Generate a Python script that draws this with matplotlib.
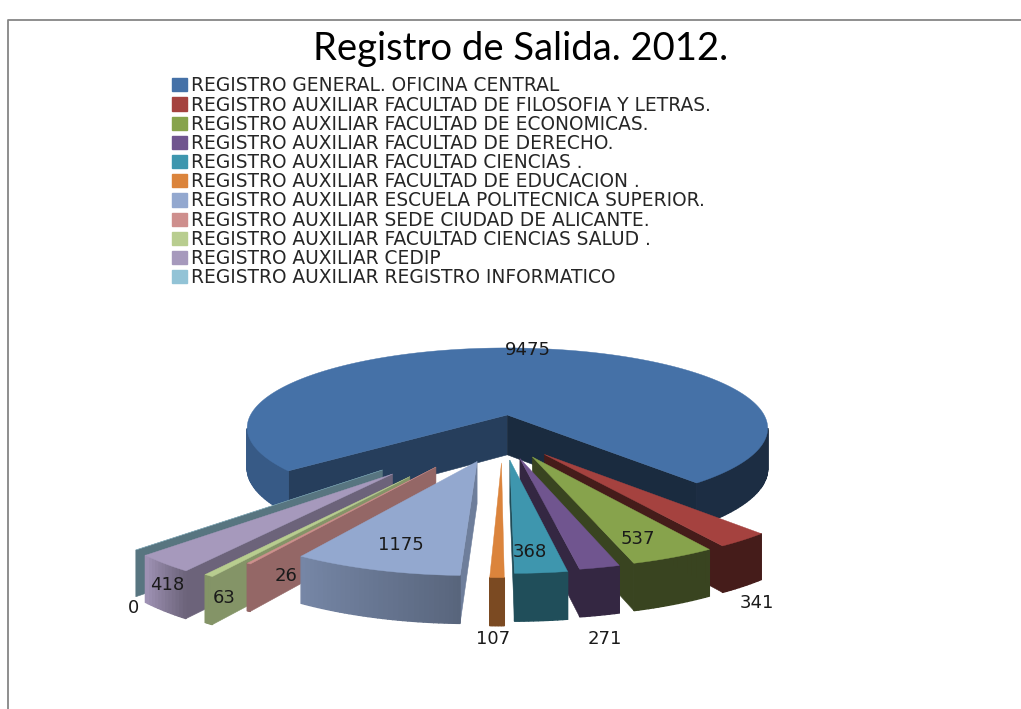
import numpy as np
import matplotlib
matplotlib.use("Agg")
import matplotlib.pyplot as plt
from matplotlib.patches import Polygon, Patch
from matplotlib.lines import Line2D

TITLE = "Registro de Salida. 2012."
CATEGORIES = ["REGISTRO GENERAL. OFICINA CENTRAL",
              "REGISTRO AUXILIAR FACULTAD DE FILOSOFIA Y LETRAS.",
              "REGISTRO AUXILIAR FACULTAD DE ECONOMICAS.",
              "REGISTRO AUXILIAR FACULTAD DE DERECHO.",
              "REGISTRO AUXILIAR FACULTAD CIENCIAS .",
              "REGISTRO AUXILIAR FACULTAD DE EDUCACION .",
              "REGISTRO AUXILIAR ESCUELA POLITECNICA SUPERIOR.",
              "REGISTRO AUXILIAR SEDE CIUDAD DE ALICANTE.",
              "REGISTRO AUXILIAR FACULTAD CIENCIAS SALUD .",
              "REGISTRO AUXILIAR CEDIP",
              "REGISTRO AUXILIAR REGISTRO INFORMATICO"]
VALUES = [9475, 341, 537, 271, 368, 107, 1175, 26, 63, 418, 0]

COLORS = ["#4571a7", "#a5423f", "#87a34c", "#70558f", "#3e96ae", "#db843c",
          "#93a8cf", "#ce8f8d", "#b8cd8f", "#a699bc", "#92c3d6"]
EXPLODE = [0.28, 0.24, 0.24, 0.24, 0.25, 0.28, 0.28, 0.40, 0.53, 0.55, 0.55]
START_SHADE = [0.55, 0.5, 0.5, 0.5, 0.5, 0.55, 0.75, 0.72, 0.72, 0.65, 0.6]
END_SHADE = [0.38, 0.42, 0.42, 0.46, 0.5, 0.55, 0.75, 0.72, 0.72, 0.65, 0.6]
ARC_SHADE = [(0.8, 0.4), (0.42, 0.42), (0.42, 0.42), (0.46, 0.46), (0.52, 0.52),
             (0.56, 0.56), (0.6, 0.8), (0.72, 0.72), (0.72, 0.72), (0.66, 0.95), (0.6, 0.6)]
DRAW_ORDER = [0, 10, 9, 8, 7, 6, 1, 2, 3, 4, 5]
LABEL_POS = [(528, 350), (757, 603), (638, 539), (605, 639), (530, 552), (493, 639),
             (401, 545), (286, 576), (224, 598), (167, 585), (133, 608)]

START_ANGLE = 230.0
MAIN_END_EXTRA = 3.0
WARP_AT = [137, 160, 172, 182, 186, 219, 230]
WARP_BY = [-2, -2, -1, 0.5, 1.9, 5, 6]
CX, CY, RX, RY, PERSP, HEIGHT = 503.0, 437.8, 269.0, 85.5, 0.17, 41.0


def project(u, v, drop=0.0):
    w = 1 + PERSP * v
    return CX + RX * u / w, CY - RY * v / w + drop * HEIGHT / w ** 0.65


def shade(color, f):
    return tuple(np.array(matplotlib.colors.to_rgb(color)) * f)


fig = plt.figure(figsize=(10.21, 7.09), dpi=100)
ax = fig.add_axes([0, 0, 1, 1])
ax.set_xlim(0, 1021)
ax.set_ylim(709, 0)
ax.axis("off")

# chart frame
ax.add_line(Line2D([8, 8, 1021], [709, 20, 20], color="#868686", lw=1.3))

fracs = np.array(VALUES, dtype=float) / sum(VALUES)
edges = START_ANGLE + np.concatenate([[0], np.cumsum(fracs) * 360])


def wedge(i):
    a0, a1 = edges[i], edges[i + 1]
    mid = np.radians((a0 + a1) / 2)
    ou, ov = EXPLODE[i] * np.sin(mid), EXPLODE[i] * np.cos(mid)
    deg = np.linspace(a0, a1, max(int(a1 - a0) + 2, 6))
    if i == 0:
        deg = np.linspace(a0, a1 + MAIN_END_EXTRA, len(deg))
    else:
        deg = deg - np.interp(deg % 360, WARP_AT, WARP_BY)
    th = np.radians(deg)
    us, vs = ou + np.sin(th), ov + np.cos(th)
    col = COLORS[i]
    z = 2 + DRAW_ORDER.index(i)

    def quad(u0, v0, u1, v1, color, lw=0.4):
        p = [project(u0, v0), project(u1, v1), project(u1, v1, 1), project(u0, v0, 1)]
        ax.add_patch(Polygon(p, closed=True, fc=color, ec=color, lw=lw, zorder=z))

    # radial walls, hanging from edges that run leftwards on screen
    if project(us[0], vs[0])[0] < project(ou, ov)[0]:
        quad(ou, ov, us[0], vs[0], shade(col, START_SHADE[i]))
    if project(ou, ov)[0] < project(us[-1], vs[-1])[0]:
        quad(us[-1], vs[-1], ou, ov, shade(col, END_SHADE[i]))
    # outer wall
    for k in range(len(th) - 1):
        if project(us[k + 1], vs[k + 1])[0] < project(us[k], vs[k])[0]:
            lo, hi = ARC_SHADE[i]
            if i == 0:
                f = hi if np.sin(th[k]) > 0 else lo
            else:
                f = lo + (hi - lo) * k / max(len(th) - 2, 1)
            quad(us[k], vs[k], us[k + 1], vs[k + 1], shade(col, f), lw=1.0)
    top = [project(ou, ov)] + [project(a, b) for a, b in zip(us, vs)]
    ax.add_patch(Polygon(top, closed=True, fc=col, ec=col, lw=0.3, zorder=z + 0.5))


for i in DRAW_ORDER:
    wedge(i)

for val, (x, y) in zip(VALUES, LABEL_POS):
    ax.text(x, y, str(val), ha="center", va="center", fontsize=13,
            family="DejaVu Sans", color="#1a1a1a", zorder=30)

ax.text(521, 49, TITLE, ha="center", va="center", fontsize=27.5, family="Lato", color="black")

handles = [Patch(fc=c, ec=c) for c in COLORS]
leg = ax.legend(handles, CATEGORIES, loc="upper left", bbox_to_anchor=(170 / 1021, 1 - 74.5 / 709),
                frameon=False, prop={"family": "DejaVu Sans", "size": 13.4}, handlelength=0.8,
                handleheight=0.72, handletextpad=0.25, labelspacing=0.01, borderpad=0.1, borderaxespad=0)
for t in leg.get_texts():
    t.set_color("#262626")

fig.savefig("out.png", dpi=100)
